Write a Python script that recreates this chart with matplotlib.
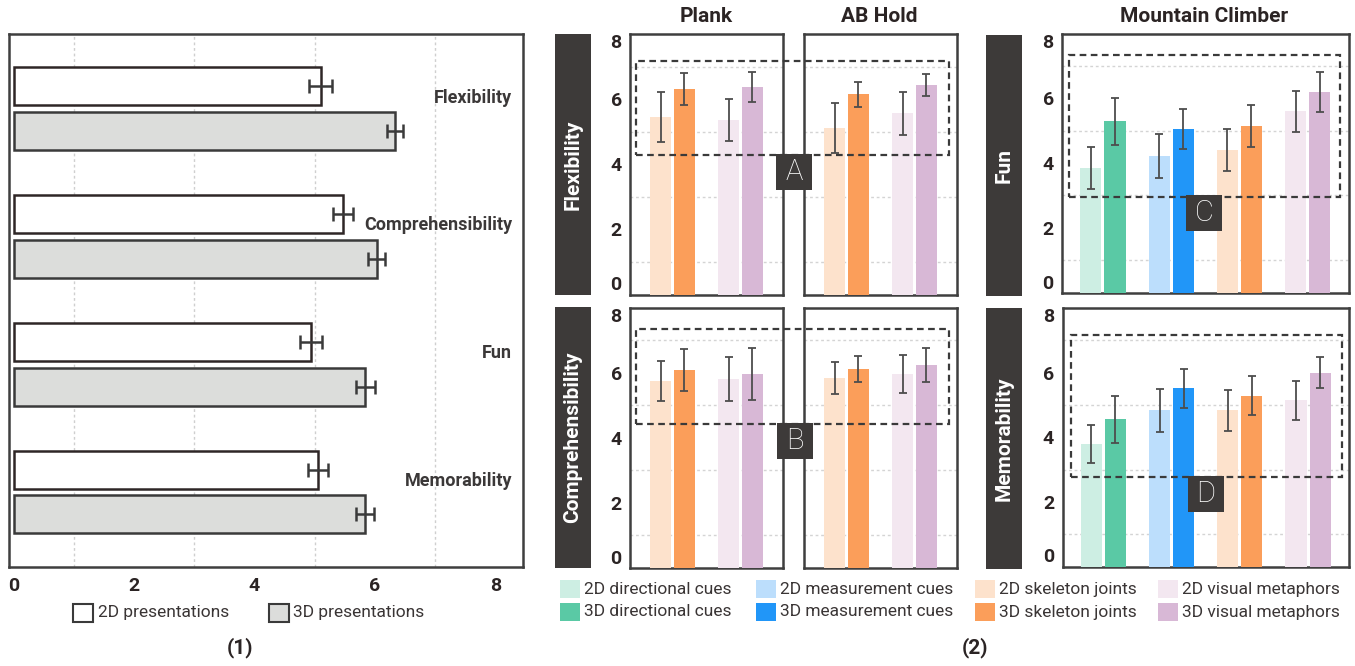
import numpy as np
import matplotlib.pyplot as plt
from matplotlib.patches import Rectangle

plt.rcParams['font.family'] = ['Roboto', 'DejaVu Sans']

W, H = 1355, 666
DARK = '#3d3a39'
TXT = '#2b2424'

# ---- panel (1): 2D vs 3D presentations
criteria = ['Flexibility', 'Comprehensibility', 'Fun', 'Memorability']
mean_2d = [5.10, 5.47, 4.94, 5.06]
err_2d = [0.19, 0.17, 0.19, 0.17]
mean_3d = [6.34, 6.03, 5.84, 5.83]
err_3d = [0.13, 0.14, 0.16, 0.15]

# ---- panel (2): per technique, order is [2D, 3D] for each technique
techniques = ['directional cues', 'measurement cues', 'skeleton joints', 'visual metaphors']
color_2d = ['#cdeee3', '#bcdefc', '#fde2cc', '#f3e7f0']
color_3d = ['#5ac9a5', '#2196f8', '#fb9e5a', '#d8b8d6']

plank_flex = [5.45, 6.31, 5.36, 6.37]
plank_flex_err = [0.77, 0.49, 0.64, 0.46]
abhold_flex = [5.11, 6.15, 5.56, 6.43]
abhold_flex_err = [0.76, 0.38, 0.67, 0.34]
plank_comp = [5.73, 6.07, 5.80, 5.95]
plank_comp_err = [0.61, 0.65, 0.69, 0.79]
abhold_comp = [5.83, 6.10, 5.95, 6.22]
abhold_comp_err = [0.49, 0.40, 0.58, 0.52]
climber_fun = [3.84, 5.29, 4.21, 5.05, 4.40, 5.14, 5.60, 6.19]
climber_fun_err = [0.65, 0.73, 0.68, 0.63, 0.66, 0.64, 0.63, 0.62]
climber_mem = [3.78, 4.55, 4.83, 5.51, 4.83, 5.29, 5.14, 6.00]
climber_mem_err = [0.59, 0.72, 0.66, 0.60, 0.63, 0.60, 0.60, 0.48]

fig = plt.figure(figsize=(W / 100, H / 100), dpi=100)


def px_axes(x0, y0, x1, y1):
    return fig.add_axes([x0 / W, 1 - y1 / H, (x1 - x0) / W, (y1 - y0) / H])


def px_rect(x0, y0, x1, y1, **kw):
    r = Rectangle((x0 / W, 1 - y1 / H), (x1 - x0) / W, (y1 - y0) / H,
                  transform=fig.transFigure, **kw)
    fig.add_artist(r)
    return r


def px_text(x, y, s, **kw):
    fig.text(x / W, 1 - y / H, s, **kw)


def style_spines(ax):
    for sp in ax.spines.values():
        sp.set_color('#3f3f3f')
        sp.set_linewidth(1.8)


# ================= panel (1) =================
ax1 = px_axes(9.3, 34, 523, 567.3)
ypos = np.arange(len(criteria))
off, bh = 0.174, 0.297
ax1.barh(ypos - off, mean_2d, height=bh, color='white', edgecolor='#2e2626',
         linewidth=1.8, zorder=3)
ax1.barh(ypos + off, mean_3d, height=bh, color='#dcdddb', edgecolor='#3a3a3a',
         linewidth=1.8, zorder=3)
ax1.errorbar(mean_2d, ypos - off, xerr=err_2d, fmt='none', ecolor='#3a3a3a',
             elinewidth=1.8, capsize=4.7, capthick=1.8, zorder=4)
ax1.errorbar(mean_3d, ypos + off, xerr=err_3d, fmt='none', ecolor='#3a3a3a',
             elinewidth=1.8, capsize=4.7, capthick=1.8, zorder=4)
for i, name in enumerate(criteria):
    ax1.text(8.28, i - 0.085, name, ha='right', va='center', fontsize=13,
             fontweight='bold', color='#3b3838', zorder=5)
ax1.set_xlim(-0.07, 8.46)
ax1.set_ylim(3.587, -0.582)
ax1.set_yticks([])
ax1.set_xticks([0, 2, 4, 6, 8])
ax1.set_xticks(range(1, 9), minor=True)
ax1.grid(which='minor', axis='x', linestyle=(0, (2, 2)), color='#cfcfcf', linewidth=1)
ax1.tick_params(axis='x', which='both', length=0, pad=7, labelsize=14, labelcolor=TXT)
for lab in ax1.get_xticklabels():
    lab.set_fontweight('bold')
style_spines(ax1)

# legend (1)
px_rect(73.3, 604, 93.3, 621.7, facecolor='white', edgecolor='#3a3a3a', lw=1.5)
px_text(97.7, 613, '2D presentations', ha='left', va='center', fontsize=12.5, color='#3a3535')
px_rect(268.5, 604, 288.5, 621.7, facecolor='#dcdddb', edgecolor='#3a3a3a', lw=1.5)
px_text(293.3, 613, '3D presentations', ha='left', va='center', fontsize=12.5, color='#3a3535')
px_text(240, 648, '(1)', ha='center', va='center', fontsize=15, fontweight='bold', color=TXT)


# ================= panel (2) =================
def draw_panel(ax, means, errs, tech_idx, show_labels):
    xs, cols = [], []
    for k, t in enumerate(tech_idx):
        xs += [k - 0.176, k + 0.176]
        cols += [color_2d[t], color_3d[t]]
    ax.bar(xs, means, width=0.31, color=cols, zorder=3)
    ax.errorbar(xs, means, yerr=errs, fmt='none', ecolor='#4d4d4d',
                elinewidth=1.3, capsize=2.6, capthick=1.3, zorder=4)
    margin = 0.625 if len(tech_idx) == 2 else 0.6
    ax.set_xlim(-margin, len(tech_idx) - 1 + margin)
    ax.set_ylim(0, 8)
    ax.set_xticks([])
    ax.set_yticks([0, 2, 4, 6, 8])
    ax.set_yticks(range(1, 8), minor=True)
    ax.grid(which='minor', axis='y', linestyle=(0, (2, 2)), color='#d4d4d4', linewidth=1)
    ax.tick_params(axis='y', which='both', length=0, pad=6, labelsize=14,
                   labelcolor=TXT, labelleft=show_labels)
    if show_labels:
        labels = ax.get_yticklabels()
        for lab in labels:
            lab.set_fontweight('bold')
        # keep the end labels inside the frame height, as in the original
        labels[0].set_verticalalignment('bottom')
        labels[-1].set_verticalalignment('top')
    style_spines(ax)


ax_pf = px_axes(630, 34, 783, 294.5)
ax_af = px_axes(804, 34, 957, 294.5)
ax_pc = px_axes(630, 307.5, 783, 567.5)
ax_ac = px_axes(804, 307.5, 957, 567.5)
ax_mf = px_axes(1062, 33.5, 1348.5, 292.5)
ax_mm = px_axes(1062.5, 308, 1349, 566.5)

draw_panel(ax_pf, plank_flex, plank_flex_err, [2, 3], True)
draw_panel(ax_af, abhold_flex, abhold_flex_err, [2, 3], False)
draw_panel(ax_pc, plank_comp, plank_comp_err, [2, 3], True)
draw_panel(ax_ac, abhold_comp, abhold_comp_err, [2, 3], False)
draw_panel(ax_mf, climber_fun, climber_fun_err, [0, 1, 2, 3], True)
draw_panel(ax_mm, climber_mem, climber_mem_err, [0, 1, 2, 3], True)

# column titles
px_text(706, 17, 'Plank', ha='center', va='center', fontsize=15, fontweight='bold', color=TXT)
px_text(879, 17, 'AB Hold', ha='center', va='center', fontsize=15, fontweight='bold', color=TXT)
px_text(1204, 17, 'Mountain Climber', ha='center', va='center', fontsize=15, fontweight='bold', color=TXT)

# row labels
for (x0, y0, x1, y1), name in [((555, 34, 591, 295), 'Flexibility'),
                               ((555, 307, 591, 568), 'Comprehensibility'),
                               ((986, 35, 1022, 296), 'Fun'),
                               ((986, 308, 1022, 569), 'Memorability')]:
    px_rect(x0, y0, x1, y1, facecolor=DARK, edgecolor='none')
    px_text((x0 + x1) / 2, (y0 + y1) / 2, name, ha='center', va='center', rotation=90,
            fontsize=15, fontweight='bold', color='white')

# dashed highlight boxes with letter tags
for (x0, y0, x1, y1), (tx0, ty0), letter in [((636, 61, 949, 155), (776, 154), 'A'),
                                             ((636, 329, 949, 424), (777, 423), 'B'),
                                             ((1069, 55, 1340, 197), (1186, 195), 'C'),
                                             ((1071, 335, 1342, 477), (1188, 476), 'D')]:
    px_rect(x0, y0, x1, y1, fill=False, edgecolor='#3a3a3a', lw=1.6,
            linestyle=(0, (3, 2)), zorder=5)
    px_rect(tx0, ty0, tx0 + 36, ty0 + 36, facecolor=DARK, edgecolor='none', zorder=6)
    fig.text((tx0 + 18) / W, 1 - (ty0 + 18) / H, letter, ha='center', va='center',
             fontsize=21, fontweight='light', color='white', zorder=7)

# legend (2)
col_x = [560, 756, 975, 1158]
for k, t in enumerate(techniques):
    for r, (dim, cl) in enumerate([('2D', color_2d[k]), ('3D', color_3d[k])]):
        y0 = 580 + r * 22.5
        px_rect(col_x[k], y0, col_x[k] + 20, y0 + 18, facecolor=cl, edgecolor='none')
        px_text(col_x[k] + 24, y0 + 9.5, f'{dim} {t}', ha='left', va='center',
                fontsize=12.5, color='#3a3535')
px_text(975, 648, '(2)', ha='center', va='center', fontsize=15, fontweight='bold', color=TXT)

fig.savefig('out.png', dpi=100)
